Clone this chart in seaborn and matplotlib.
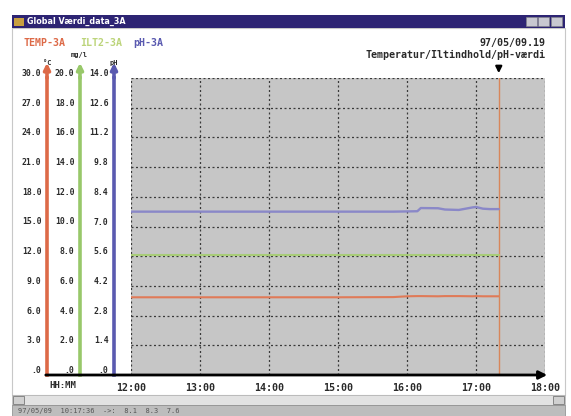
import numpy as np
import pandas as pd
import matplotlib
matplotlib.use("Agg")
import matplotlib.pyplot as plt
import seaborn as sns
from matplotlib.patches import Rectangle, FancyArrowPatch

# ---------------- data ----------------
hours = [12.0, 13.0, 14.0, 15.0, 15.8, 16.0, 16.15, 16.2, 16.45, 16.55, 16.75, 16.95, 17.0, 17.1, 17.2, 17.33]
temp = [7.85, 7.85, 7.85, 7.85, 7.87, 7.95, 7.97, 7.97, 7.95, 7.97, 7.97, 7.95, 7.97, 7.95, 7.95, 7.95]
oxygen = [8.05, 8.05, 8.05, 8.05, 8.05, 8.05, 8.05, 8.05, 8.05, 8.05, 8.05, 8.05, 8.05, 8.05, 8.05, 8.05]
ph = [7.7, 7.7, 7.7, 7.7, 7.7, 7.71, 7.72, 7.87, 7.86, 7.8, 7.78, 7.9, 7.92, 7.84, 7.82, 7.82]

scale_max = {"temp": 30.0, "oxygen": 20.0, "ph": 14.0}
temp_ticks = ["30.0", "27.0", "24.0", "21.0", "18.0", "15.0", "12.0", "9.0", "6.0", "3.0", ".0"]
oxy_ticks = ["20.0", "18.0", "16.0", "14.0", "12.0", "10.0", "8.0", "6.0", "4.0", "2.0", ".0"]
ph_ticks = ["14.0", "12.6", "11.2", "9.8", "8.4", "7.0", "5.6", "4.2", "2.8", "1.4", ".0"]
hour_ticks = [12, 13, 14, 15, 16, 17, 18]
hour_labels = ["12:00", "13:00", "14:00", "15:00", "16:00", "17:00", "18:00"]
cursor_hour = 17.33

df = pd.DataFrame({"hour": hours, "temp": temp, "oxygen": oxygen, "ph": ph})

# ---------------- style ----------------
sns.set_theme(style="white")
plt.rcParams['font.family'] = ['DejaVu Sans Mono', 'DejaVu Sans']

W, H = 571, 416
fig = plt.figure(figsize=(W / 100, H / 100), dpi=100)
fig.patch.set_facecolor("white")


def fx(p):
    return p / W


def fy(p):
    return 1 - p / H


def rect(x0, y0, x1, y1, color, ec=None, lw=0, z=-5):
    fig.patches.append(Rectangle((fx(x0), fy(y1)), fx(x1) - fx(x0), (y1 - y0) / H,
                                 transform=fig.transFigure, facecolor=color,
                                 edgecolor=ec if ec else color, linewidth=lw, zorder=z))

RED = "#dd6a48"
GREEN = "#98c86a"
BLUE = "#5a5ab0"
TXT = "#2a2a2a"

# window chrome
rect(12, 28, 565, 395, "white", ec="#c8c8c8", lw=0.8, z=-10)
rect(12, 15, 565, 28, "#2d2473")
rect(14, 18, 24, 26, "#c8a040")
fig.text(fx(27), fy(21.5), "Global Værdi_data_3A", color="white", fontsize=5.8,
         fontweight="bold", va="center", ha="left", family="DejaVu Sans")
for bx in (526, 538, 551):
    rect(bx, 17, bx + 11, 26, "#c8c8d0", ec="#888", lw=0.4)
rect(12, 395, 565, 405, "#e2e2e2", ec="#b0b0b0", lw=0.5)
rect(13, 396, 24, 404, "#d0d0d0", ec="#666", lw=0.5)
rect(553, 396, 564, 404, "#d0d0d0", ec="#666", lw=0.5)
rect(12, 405, 565, 416, "#bdbdbd", ec="#888", lw=0.5)
fig.text(fx(18), fy(411), "97/05/09  10:17:36  ->:  8.1  8.3  7.6", color="#555",
         fontsize=5, va="center", ha="left")

# header texts
HF = 7.2
fig.text(fx(24), fy(43), "TEMP-3A", color=RED, fontsize=HF, fontweight="bold", va="center")
fig.text(fx(80), fy(43), "ILT2-3A", color="#bcd47a", fontsize=HF, fontweight="bold", va="center")
fig.text(fx(133), fy(43), "pH-3A", color=BLUE, fontsize=HF, fontweight="bold", va="center")
fig.text(fx(545), fy(43), "97/05/09.19", color=TXT, fontsize=HF, fontweight="bold",
         va="center", ha="right")
fig.text(fx(545), fy(55), "Temperatur/Iltindhold/pH-værdi", color=TXT, fontsize=HF,
         fontweight="bold", va="center", ha="right")

# ---------------- main plot ----------------
top_px, bot_px = 78, 375
ax = fig.add_axes([fx(131), fy(bot_px), fx(545) - fx(131), (bot_px - top_px) / H])
ax.set_facecolor("#c6c6c6")
ax.set_xlim(12, 18)
ax.set_ylim(0, scale_max["temp"])
ax.set_yticks(np.linspace(0, scale_max["temp"], 11))
ax.set_yticklabels([])
ax.tick_params(axis="x", length=0, pad=6)
ax.tick_params(axis="y", length=0)
for s in ax.spines.values():
    s.set_visible(False)

ax_o = ax.twinx()
ax_p = ax.twinx()
for a, key in ((ax_o, "oxygen"), (ax_p, "ph")):
    a.set_ylim(0, scale_max[key])
    a.set_yticks([])
    a.grid(False)
    for s in a.spines.values():
        s.set_visible(False)

sns.lineplot(data=df, x="hour", y="temp", ax=ax, color="#e07a58", linewidth=1.5)
sns.lineplot(data=df, x="hour", y="oxygen", ax=ax_o, color="#a8cc78", linewidth=1.5)
sns.lineplot(data=df, x="hour", y="ph", ax=ax_p, color="#8a88c8", linewidth=1.7)
for a in (ax, ax_o, ax_p):
    a.set_xlabel("")
    a.set_ylabel("")
ax.set_xlim(12, 18)
ax.set_xticks(hour_ticks)
ax.set_xticklabels(hour_labels, fontsize=7.2, fontweight="bold", color=TXT)
ax.grid(True, color="#3a3a3a", linestyle=(0, (1.6, 2.0)), linewidth=0.9)
ax.set_axisbelow(True)

# cursor
ax.axvline(cursor_hour, ymin=0, ymax=1.0, color="#d8865a", linewidth=1.0)
ytop = scale_max["temp"]
ax.annotate("", xy=(cursor_hour, ytop * (1 + 2 / 297)),
            xytext=(cursor_hour, ytop * (1 + 13 / 297)),
            arrowprops=dict(arrowstyle="-|>", color="black", lw=1.6, mutation_scale=9),
            annotation_clip=False)

# x axis arrow
fig.add_artist(FancyArrowPatch((fx(43), fy(bot_px)), (fx(550), fy(bot_px)),
                               transform=fig.transFigure, arrowstyle="-|>",
                               mutation_scale=12, color="black", lw=2.0))
fig.text(fx(63), fy(385), "HH:MM", color=TXT, fontsize=6.5, fontweight="bold",
         ha="center", va="center")

# ---------------- left scales ----------------
scales = [(47, "temp", RED, temp_ticks, "°C", 47, 63),
          (80, "oxygen", GREEN, oxy_ticks, "mg/l", 79, 55),
          (114, "ph", BLUE, ph_ticks, "pH", 114, 63)]
for xp, key, col, labels, unit, ux, uy in scales:
    sa = fig.add_axes([fx(xp), fy(bot_px), 0.0001, (bot_px - top_px) / H])
    sa.set_facecolor("none")
    sa.set_ylim(0, scale_max[key])
    sa.set_xticks([])
    sa.set_yticks(np.linspace(scale_max[key], 0, 11))
    sa.set_yticklabels(labels, fontsize=5.9, fontweight="bold", color=TXT)
    for lab in sa.get_yticklabels():
        lab.set_va("bottom")
    sa.tick_params(axis="y", direction="inout", length=4, width=0.9, color="#333", pad=2)
    for name, s in sa.spines.items():
        s.set_visible(name == "left")
    sa.spines["left"].set_color(col)
    sa.spines["left"].set_linewidth(2.6)
    sa.grid(False)
    sa.annotate("", xy=(0, 1 + 18 / 297), xytext=(0, 0.99), xycoords="axes fraction",
                arrowprops=dict(arrowstyle="-|>", color=col, lw=2.6, mutation_scale=9),
                annotation_clip=False)
    fig.text(fx(ux), fy(uy), unit, color=TXT, fontsize=5, fontweight="bold",
             ha="center", va="center")

fig.savefig("out.png", dpi=100)
